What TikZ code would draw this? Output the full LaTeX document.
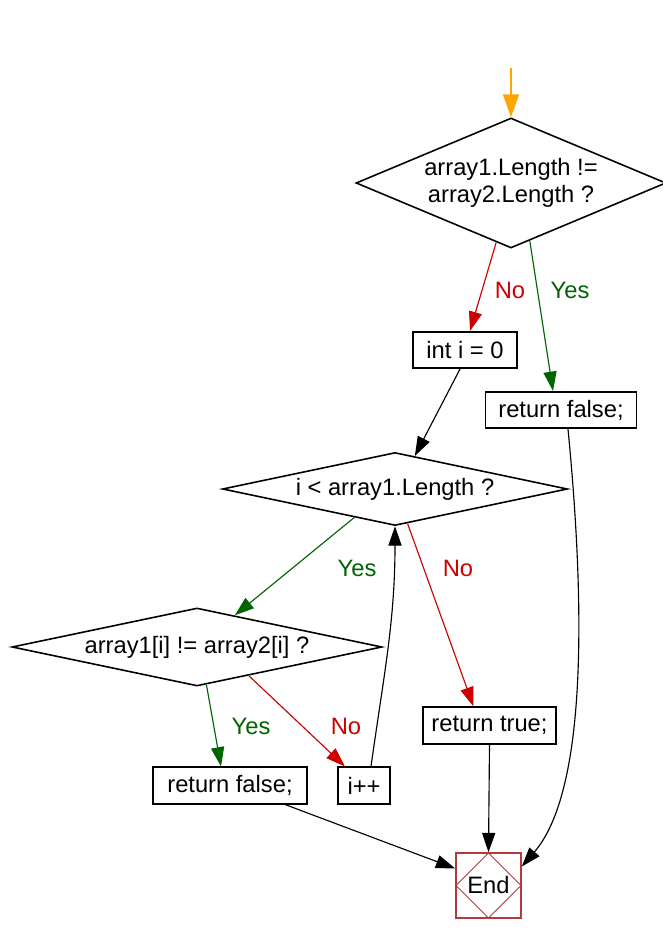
\documentclass[tikz,border=0pt]{standalone}
\usepackage{fontspec}
\setmainfont{Liberation Sans}
\usetikzlibrary{calc,shapes.geometric,arrows.meta}

\definecolor{noRed}{HTML}{CC0000}
\definecolor{yesGreen}{HTML}{006400}
\definecolor{startOrange}{HTML}{FFA500}
\definecolor{endRed}{HTML}{B23A3A}

\tikzset{
	every node/.style={font=\fontsize{13.5}{15.5}\selectfont},
	decision/.style={draw, diamond, inner sep=0pt, line width=0.9pt, align=center},
	action/.style={draw, rectangle, inner sep=0pt, line width=0.9pt, minimum height=0.73cm},
	flow/.style={-{Triangle[length=11pt,width=7.5pt]}, line width=0.65pt},
	yes/.style={flow, color=yesGreen},
	no/.style={flow, color=noRed},
}

\begin{document}
\begin{tikzpicture}
			%%%%% START %%%%%
			\useasboundingbox (0, 0) rectangle (13.26, 18.58);
			
			\coordinate (start) at (10.22, 17.22);
			
			\node[decision, aspect=2.385, minimum width=6.2cm, minimum height=2.6cm] (lencheck) at (10.22, 14.92) {array1.Length !=\\array2.Length ?};
			\node[action, minimum width=2.08cm] (init) at (9.30, 11.58) {int i = 0};
			\node[action, minimum width=3.02cm] (retfalse1) at (11.22, 10.38) {return false;};
			
			\node[decision, aspect=4.73, minimum width=6.9cm, minimum height=1.46cm] (loop) at (7.90, 8.80) {i < array1.Length ?};
			\node[decision, aspect=4.74, minimum width=7.4cm, minimum height=1.56cm] (itemcheck) at (3.94, 5.64) {array1[i] != array2[i] ?};
			
			\node[action, minimum width=3.08cm] (retfalse2) at (4.60, 2.87) {return false;};
			\node[action, minimum width=1.04cm] (incr) at (7.28, 2.87) {i++};
			\node[action, minimum width=2.66cm] (rettrue) at (9.79, 4.07) {return true;};
			
			\node[draw=endRed, line width=0.9pt, minimum size=1.3cm, inner sep=0pt,
				path picture={\draw[endRed, line width=0.6pt] (path picture bounding box.north) -- (path picture bounding box.east) -- (path picture bounding box.south) -- (path picture bounding box.west) -- cycle;}] (end) at (9.77, 0.87) {End};
			
			% entry
			\draw[-{Triangle[length=13pt,width=9pt]}, color=startOrange, line width=1.3pt] (start) -- (lencheck.north);
			
			% length test
			\draw[no] (lencheck.-104) -- ($(init.north)+(0.1,0)$);
			\node[text=noRed] (lbl1) at (10.20, 12.78) {No};
			\draw[yes] (lencheck.-72) -- ($(retfalse1.north)+(-0.16,0)$);
			\node[text=yesGreen] (lbl2) at (11.40, 12.78) {Yes};
			
			\draw[flow] ($(init.south)+(-0.1,0)$) -- (loop.59);
			
			% loop test
			\draw[yes] (loop.215) -- (itemcheck.40);
			\node[text=yesGreen] (lbl3) at (7.14, 7.22) {Yes};
			\draw[no] (loop.-70) -- ($(rettrue.north)+(-0.32,0)$);
			\node[text=noRed] (lbl4) at (9.16, 7.22) {No};
			
			% item test
			\draw[yes] (itemcheck.-76) -- ($(retfalse2.north)+(-0.18,0)$);
			\node[text=yesGreen] (lbl5) at (5.02, 4.06) {Yes};
			\draw[no] (itemcheck.-29) -- ($(incr.north)+(-0.38,0)$);
			\node[text=noRed] (lbl6) at (6.92, 4.06) {No};
			
			\draw[flow] ($(incr.north)+(0.14,0)$) to[out=82, in=-90] (loop.south);
			
			% exits
			\draw[flow] (rettrue.south) -- (end.north);
			\draw[flow] ($(retfalse2.south)+(1.1,0)$) -- ($(end.west)+(0,0.34)$);
			\draw[flow] ($(retfalse1.south)+(0.14,0)$) .. controls +(0.35,-3.6) and +(1.3,1.5) .. ($(end.east)+(0,0.38)$);
			%%%%% END %%%%%
\end{tikzpicture}
\end{document}
